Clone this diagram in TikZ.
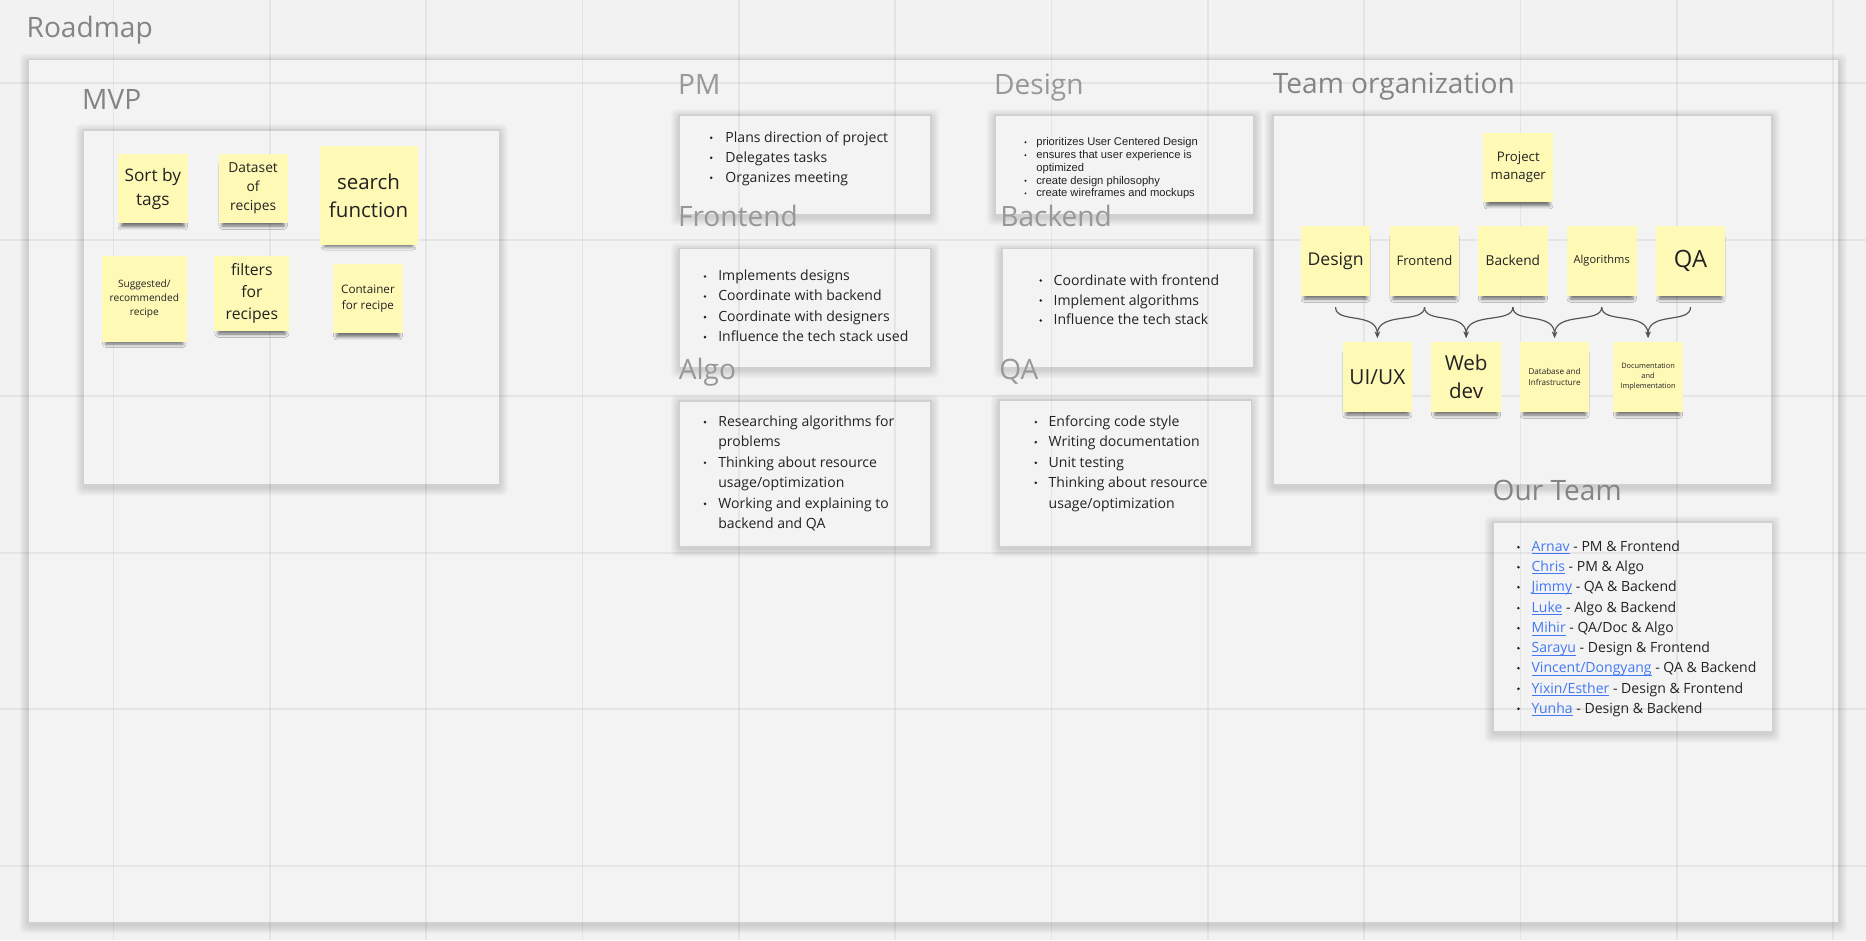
\documentclass[tikz,border=0pt]{standalone}
\usepackage{fontspec}
\setmainfont{Open Sans}
\newfontfamily\arialf{Liberation Sans}
\usetikzlibrary{shadows.blur,arrows.meta,calc}
\definecolor{bg}{RGB}{242,242,242}
\definecolor{cardfill}{RGB}{243,243,243}
\definecolor{cardborder}{RGB}{208,208,208}
\definecolor{stickyY}{RGB}{255,249,182}
\definecolor{titlegray}{RGB}{132,132,132}
\definecolor{rolegray}{RGB}{152,152,152}
\definecolor{textdark}{RGB}{34,34,34}
\definecolor{linkblue}{RGB}{66,120,245}
\definecolor{bracegray}{RGB}{85,85,85}
\newcommand\fsz[1]{\fontsize{#1pt}{\dimexpr #1pt*138/100\relax}\selectfont}
\newcommand\lnk[1]{{\color{linkblue}\setbox0\hbox{#1}\rlap{\rule[-1.1pt]{\wd0}{0.35pt}}\box0}}
\newcommand\bul[2]{\fill[textdark] (#1,{#2-3.8}) circle[radius=0.6pt];}
\newcommand\dbul[2]{\fill[textdark] (#1,{#2-2.9}) circle[radius=0.45pt];}
\newcommand\card[4]{%
  \foreach \e in {1,...,7} {\fill[black, opacity=0.018, rounded corners=2pt] ({#1-\e},{#2-\e+2}) rectangle ({#3+\e},{#4+\e+2});}
  \draw[frame] (#1,#2) rectangle (#3,#4);}
\begin{document}
\begin{tikzpicture}[x=0.5pt,y=-0.5pt,
  frame/.style={draw=cardborder, fill=cardfill, line width=0.7pt},
  sticky/.style={fill=stickyY, inner sep=1pt, align=center, text=textdark,
    blur shadow={shadow xshift=0pt, shadow yshift=-3.2pt, shadow scale=0.9, shadow blur radius=1.5pt, shadow opacity=55}},
  tnote/.style={sticky, minimum width=29.25pt, minimum height=29.3pt},
  title/.style={anchor=base west, inner sep=0pt, text=titlegray, font=\fontsize{11.8pt}{13pt}\selectfont},
  rtitle/.style={title, text=rolegray},
  item/.style={anchor=base west, inner sep=0pt, text=textdark, font=\fontsize{5.9pt}{7pt}\selectfont},
  ditem/.style={anchor=base west, inner sep=0pt, text=textdark, font=\arialf\fontsize{4.7pt}{5.5pt}\selectfont},
  gridline/.style={draw=black, opacity=0.055, line width=0.7pt},
  brace/.style={draw=bracegray, line width=0.5pt, -{Stealth[length=2.6pt,width=2.2pt]}}
]
\useasboundingbox (0,0) rectangle (1568,790);
\fill[bg] (0,0) rectangle (1568,790);

% frames and cards
\card{23.5}{50}{1545}{775.5}
\card{70.3}{109.2}{419.7}{407.5}
\card{570.8}{96.6}{782.3}{180.7}
\card{836.2}{96.6}{1053.9}{180.7}
\card{570.8}{208.7}{782.3}{308.7}
\card{841.8}{208.7}{1053.9}{308.7}
\card{570.8}{336.7}{782.3}{459.4}
\card{839.7}{336.1}{1051.5}{459.4}
\card{1069.6}{96.6}{1488.9}{407.6}
\card{1254.3}{438.4}{1489.3}{614.9}

% grid
\foreach \k in {0,...,11} \draw[gridline] ({95.5+131.35*\k},0) -- ({95.5+131.35*\k},790);
\foreach \k in {0,...,5} \draw[gridline] (0,{70+131.5*\k}) -- (1568,{70+131.5*\k});

% titles
\node[title] (roadmapT) at (22,31.7) {Roadmap};
\node[title] (mvpT) at (68.7,92.4) {MVP};
\node[rtitle] (pmT) at (569.4,79.3) {PM};
\node[rtitle] (designT) at (835,79.3) {Design};
\node[rtitle] (frontendT) at (569.4,190.5) {Frontend};
\node[rtitle] (backendT) at (840.2,190.5) {Backend};
\node[rtitle] (algoT) at (570,319.3) {Algo};
\node[rtitle] (qaT) at (839.4,319.3) {QA};
\node[title] (teamT) at (1069.2,78.8) {Team organization};
\node[title] (ourT) at (1253.9,420.2) {Our Team};

% MVP stickies
\node[sticky, minimum width=29.4pt, minimum height=29.15pt, font=\fsz{7.25}] (sort) at (128.4,158.55) {Sort by\\tags};
\node[sticky, minimum width=28.9pt, minimum height=28.85pt, font=\fsz{5.8}] (dataset) at (212.7,158.25) {Dataset\\of\\recipes};
\node[sticky, minimum width=41.2pt, minimum height=41.6pt, font=\fsz{8.6}] (search) at (309.7,164.3) {search\\function};
\node[sticky, minimum width=35.9pt, minimum height=36pt, font=\fsz{4.25}] (suggest) at (121.3,251.1) {Suggested/\\recommended\\recipe};
\node[sticky, minimum width=31.55pt, minimum height=31.65pt, font=\fsz{6.6}] (filters) at (211.65,246.45) {filters\\for\\recipes};
\node[sticky, minimum width=29.1pt, minimum height=29pt, font=\fsz{4.9}] (container) at (309.2,251.1) {Container\\for recipe};

% Team organization stickies
\node[tnote, font=\fsz{5.55}] (pm) at (1275.8,140.75) {Project\\manager};
\node[tnote, font=\fsz{7.4}] (design) at (1122.25,219.2) {Design};
\node[tnote, font=\fsz{5.5}] (frontend) at (1197,219.2) {Frontend};
\node[tnote, font=\fsz{5.75}] (backend) at (1271.3,219.2) {Backend};
\node[tnote, font=\fsz{4.65}] (algorithms) at (1345.9,219.2) {Algorithms};
\node[tnote, font=\fsz{10}] (qa) at (1420.55,219.2) {QA};
\node[tnote, font=\fsz{8.75}] (uiux) at (1157.4,316.65) {UI/UX};
\node[tnote, font=\fsz{8.65}] (webdev) at (1232,316.65) {Web\\dev};
\node[tnote, font=\fsz{3.4}] (database) at (1306.3,316.65) {Database and\\Infrastructure};
\node[tnote, font=\fsz{3.1}] (docs) at (1384.85,316.65) {Documentation\\and\\Implementation};

% braces
\foreach \a/\b in {design/uiux, frontend/uiux, frontend/webdev, backend/webdev, backend/database, algorithms/database, algorithms/docs, qa/docs}
  \draw[brace] ($(\a.south)+(0,9.2)$) .. controls ($(\a.south)+(0,23.5)$) and ($(\b.north)+(0,-25.5)$) .. ($(\b.north)+(0,-3)$);

% PM
\bul{597.6}{119.6}\bul{597.6}{136.4}\bul{597.6}{153.2}
\node[item] (pm1) at (609.2,119.6) {Plans direction of project};
\node[item] (pm2) at (609.2,136.4) {Delegates tasks};
\node[item] (pm3) at (609.2,153.2) {Organizes meeting};

% Design
\dbul{861.7}{122.4}\dbul{861.7}{133.3}\dbul{861.7}{154.8}\dbul{861.7}{165.4}
\node[ditem] (ds1) at (870.4,122.4) {prioritizes User Centered Design};
\node[ditem] (ds2) at (870.4,133.3) {ensures that user experience is};
\node[ditem] (ds3) at (870.4,144.2) {optimized};
\node[ditem] (ds4) at (870.4,154.8) {create design philosophy};
\node[ditem] (ds5) at (870.4,165.4) {create wireframes and mockups};

% Frontend
\bul{592.4}{236.1}\bul{592.4}{252.9}\bul{592.4}{270.3}\bul{592.4}{287.1}
\node[item] (fe1) at (603.2,236.1) {Implements designs};
\node[item] (fe2) at (603.2,252.9) {Coordinate with backend};
\node[item] (fe3) at (603.2,270.3) {Coordinate with designers};
\node[item] (fe4) at (603.2,287.1) {Influence the tech stack used};

% Backend
\bul{874.5}{239.5}\bul{874.5}{256.3}\bul{874.5}{273.1}
\node[item] (be1) at (885,239.5) {Coordinate with frontend};
\node[item] (be2) at (885,256.3) {Implement algorithms};
\node[item] (be3) at (885,273.1) {Influence the tech stack};

% Algo
\bul{592.4}{358.5}\bul{592.4}{392.7}\bul{592.4}{427.2}
\node[item] (al1) at (603.2,358.5) {Researching algorithms for};
\node[item] (al2) at (603.2,375.4) {problems};
\node[item] (al3) at (603.2,392.7) {Thinking about resource};
\node[item] (al4) at (603.2,409.5) {usage/optimization};
\node[item] (al5) at (603.2,427.2) {Working and explaining to};
\node[item] (al6) at (603.2,444) {backend and QA};

% QA
\bul{870.4}{358.5}\bul{870.4}{375.4}\bul{870.4}{392.7}\bul{870.4}{409.5}
\node[item] (qa1) at (880.8,358.5) {Enforcing code style};
\node[item] (qa2) at (880.8,375.4) {Writing documentation};
\node[item] (qa3) at (880.8,392.7) {Unit testing};
\node[item] (qa4) at (880.8,409.5) {Thinking about resource};
\node[item] (qa5) at (880.8,427.2) {usage/optimization};

% Our Team
\foreach \yy in {463.6,480.4,497.2,514.8,531.7,548.5,565.3,582.6,599.4} {\bul{1275.9}{\yy}}
\node[item] (ot1) at (1286.6,463.6) {\lnk{Arnav} - PM \& Frontend};
\node[item] (ot2) at (1286.6,480.4) {\lnk{Chris} - PM \& Algo};
\node[item] (ot3) at (1286.6,497.2) {\lnk{Jimmy} - QA \& Backend};
\node[item] (ot4) at (1286.6,514.8) {\lnk{Luke} - Algo \& Backend};
\node[item] (ot5) at (1286.6,531.7) {\lnk{Mihir} - QA/Doc \& Algo};
\node[item] (ot6) at (1286.6,548.5) {\lnk{Sarayu} - Design \& Frontend};
\node[item] (ot7) at (1286.6,565.3) {\lnk{Vincent/Dongyang} - QA \& Backend};
\node[item] (ot8) at (1286.6,582.6) {\lnk{Yixin/Esther} - Design \& Frontend};
\node[item] (ot9) at (1286.6,599.4) {\lnk{Yunha} - Design \& Backend};
\end{tikzpicture}
\end{document}
